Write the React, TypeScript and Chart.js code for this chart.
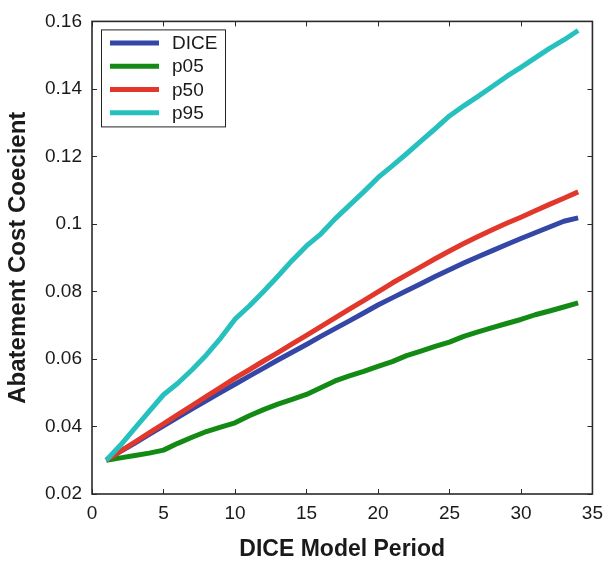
import React, { useEffect, useRef } from "react";
import { Chart, registerables } from "chart.js";

Chart.register(...registerables);

const periods = [1, 2, 3, 4, 5, 6, 7, 8, 9, 10, 11, 12, 13, 14, 15, 16, 17, 18, 19, 20, 21, 22, 23, 24, 25, 26, 27, 28, 29, 30, 31, 32, 33, 34];

const diceValues = [0.030, 0.0326, 0.0351, 0.0377, 0.0402, 0.0427, 0.0452, 0.0477, 0.0501, 0.0525, 0.0549, 0.0573, 0.0597, 0.0620, 0.0643, 0.0667, 0.0690, 0.0713, 0.0736, 0.0760, 0.0781, 0.0802, 0.0823, 0.0844, 0.0864, 0.0884, 0.0903, 0.0921, 0.0939, 0.0957, 0.0974, 0.0991, 0.1008, 0.1018];

const p05Values = [0.0300, 0.0307, 0.0314, 0.0321, 0.0330, 0.0350, 0.0368, 0.0385, 0.0398, 0.0411, 0.0432, 0.0450, 0.0466, 0.0480, 0.0495, 0.0515, 0.0535, 0.0550, 0.0563, 0.0578, 0.0592, 0.0610, 0.0623, 0.0637, 0.0650, 0.0667, 0.0680, 0.0693, 0.0705, 0.0717, 0.0731, 0.0742, 0.0754, 0.0766];

const p50Values = [0.030, 0.0327, 0.0354, 0.0381, 0.0408, 0.0435, 0.0462, 0.0489, 0.0516, 0.0543, 0.0568, 0.0594, 0.0619, 0.0645, 0.0670, 0.0696, 0.0722, 0.0748, 0.0773, 0.0799, 0.0825, 0.0849, 0.0873, 0.0897, 0.0920, 0.0942, 0.0963, 0.0983, 0.1002, 0.1020, 0.1039, 0.1058, 0.1076, 0.1095];

const p95Values = [0.030, 0.0345, 0.0395, 0.0445, 0.0494, 0.0528, 0.0568, 0.0612, 0.0662, 0.0718, 0.0757, 0.0800, 0.0845, 0.0892, 0.0935, 0.0970, 0.1015, 0.1055, 0.1095, 0.1137, 0.1172, 0.1208, 0.1245, 0.1282, 0.1320, 0.1350, 0.1378, 0.1407, 0.1437, 0.1464, 0.1492, 0.1520, 0.1545, 0.1573];

const seriesLabels = ["DICE", "p05", "p50", "p95"];
const seriesColors = ["#3446a6", "#138a13", "#e2372b", "#26c1bf"];

const xTicks = [0, 5, 10, 15, 20, 25, 30, 35];
const yTicks = [0.02, 0.04, 0.06, 0.08, 0.1, 0.12, 0.14, 0.16];
const yTickLabels = ["0.02", "0.04", "0.06", "0.08", "0.1", "0.12", "0.14", "0.16"];

const xTitle = "DICE Model Period";
const yTitle = "Abatement Cost Coecient";

const FONT = "'Liberation Sans', Arial, Helvetica, sans-serif";

export default function App() {
  const ref = useRef<HTMLCanvasElement>(null);

  useEffect(() => {
    if (!ref.current) return;
    const allSeries = [diceValues, p05Values, p50Values, p95Values];

    const framePlugin = {
      id: "frameAndLegend",
      afterDatasetsDraw(chart: any) {
        const { ctx, chartArea: a, scales } = chart;
        ctx.save();
        const line = (x1: number, y1: number, x2: number, y2: number) => {
          ctx.beginPath();
          ctx.moveTo(x1, y1);
          ctx.lineTo(x2, y2);
          ctx.stroke();
        };
        ctx.strokeStyle = "#2a2a2a";
        ctx.lineWidth = 1;
        const tl = 5;
        xTicks.forEach((v) => {
          const px = Math.round(scales.x.getPixelForValue(v)) + 0.5;
          line(px, a.bottom, px, a.bottom - tl);
          line(px, a.top, px, a.top + tl);
        });
        yTicks.forEach((v) => {
          const py = Math.round(scales.y.getPixelForValue(v)) + 0.5;
          line(a.left, py, a.left + tl, py);
          line(a.right, py, a.right - tl, py);
        });
        ctx.lineWidth = 1.6;
        ctx.strokeRect(a.left, a.top, a.right - a.left, a.bottom - a.top);

        // legend
        const lx = a.left + 9;
        const ly = a.top + 8;
        const lw = 124;
        const lh = 97;
        ctx.fillStyle = "#ffffff";
        ctx.fillRect(lx, ly, lw, lh);
        ctx.lineWidth = 1;
        ctx.strokeStyle = "#222222";
        ctx.strokeRect(lx + 0.5, ly + 0.5, lw, lh);
        ctx.font = `19px ${FONT}`;
        ctx.textBaseline = "middle";
        ctx.textAlign = "left";
        chart.data.datasets.forEach((ds: any, i: number) => {
          const rowY = ly + 13.5 + i * 23.3;
          ctx.strokeStyle = ds.borderColor;
          ctx.lineWidth = 5;
          line(lx + 9, rowY, lx + 58, rowY);
          ctx.fillStyle = "#1a1a1a";
          ctx.fillText(ds.label, lx + 71, rowY + 1);
        });
        ctx.restore();
      },
    };

    const chart = new Chart(ref.current, {
      type: "line",
      data: {
        datasets: seriesLabels.map((label, i) => ({
          label,
          data: periods.map((p, j) => ({ x: p, y: allSeries[i][j] })),
          borderColor: seriesColors[i],
          backgroundColor: seriesColors[i],
          borderWidth: 5,
          pointRadius: 0,
          fill: false,
          tension: 0,
          borderJoinStyle: "round",
          order: 3 - i,
        })),
      },
      options: {
        animation: false,
        responsive: false,
        devicePixelRatio: 1,
        layout: { padding: { top: 15, right: 16, left: 0, bottom: 0 } },
        plugins: {
          legend: { display: false },
          tooltip: { enabled: false },
        },
        scales: {
          x: {
            type: "linear",
            min: 0,
            max: 35,
            afterBuildTicks: (s: any) => {
              s.ticks = xTicks.map((v) => ({ value: v }));
            },
            afterFit: (s: any) => {
              s.height = 69;
            },
            grid: { display: false, drawTicks: false },
            border: { display: false },
            ticks: {
              autoSkip: false,
              maxRotation: 0,
              padding: 8,
              color: "#1a1a1a",
              font: { family: FONT, size: 19 },
            },
            title: {
              display: true,
              text: xTitle,
              color: "#1a1a1a",
              font: { family: FONT, size: 23, weight: "bold", lineHeight: 1.2 },
              padding: { top: 0, bottom: 0 },
            },
          },
          y: {
            type: "linear",
            min: 0.02,
            max: 0.16,
            afterBuildTicks: (s: any) => {
              s.ticks = yTicks.map((v) => ({ value: v }));
            },
            afterFit: (s: any) => {
              s.width = 92;
            },
            grid: { display: false, drawTicks: false },
            border: { display: false },
            ticks: {
              autoSkip: false,
              padding: 10,
              color: "#1a1a1a",
              font: { family: FONT, size: 19 },
              callback: (_v: any, idx: number) => yTickLabels[idx],
            },
            title: {
              display: true,
              text: yTitle,
              color: "#1a1a1a",
              font: { family: FONT, size: 24, weight: "bold", lineHeight: 1.2 },
              padding: { top: 4, bottom: 0 },
            },
          },
        },
      },
      plugins: [framePlugin],
    } as any);

    return () => chart.destroy();
  }, []);

  return (
    <div style={{ position: "absolute", left: 0, top: 0, width: 611, height: 563, background: "#ffffff" }}>
      <canvas ref={ref} width={611} height={563} style={{ display: "block" }} />
    </div>
  );
}
